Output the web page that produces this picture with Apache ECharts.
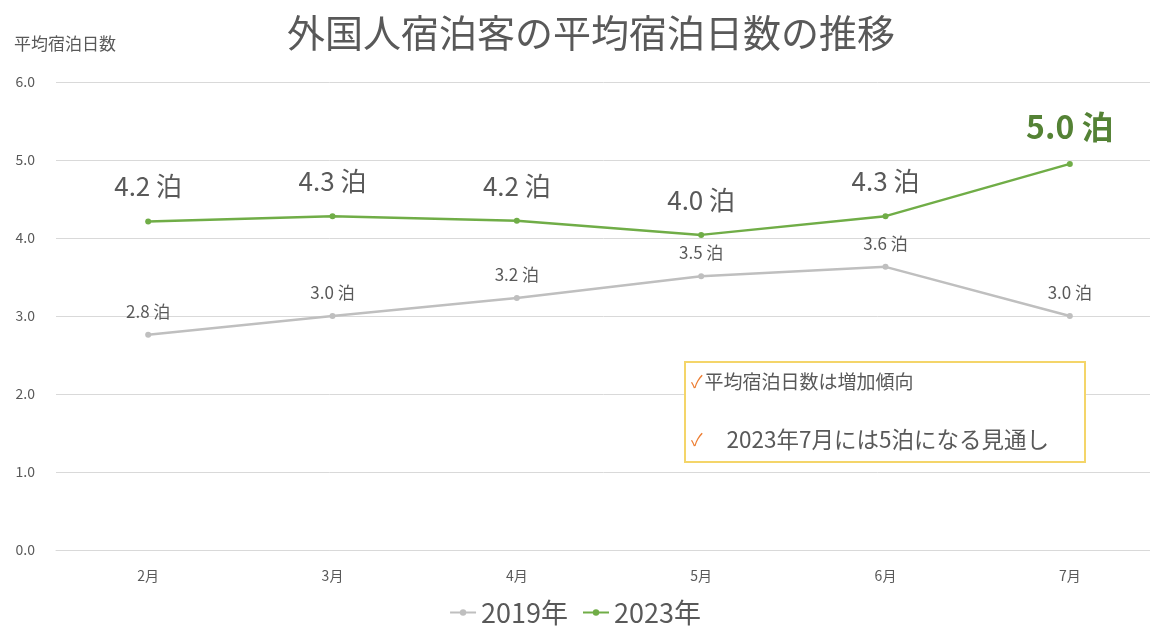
<!DOCTYPE html>
<html>
<head>
<meta charset="utf-8">
<script src="https://cdn.jsdelivr.net/npm/echarts@6/dist/echarts.min.js"></script>
<style>
  html, body { margin: 0; padding: 0; background: #fff; }
  #myChart { width: 1150px; height: 631px; }
</style>
</head>
<body>
<div id="myChart"></div>
<script>
// 月
const months = ['2月', '3月', '4月', '5月', '6月', '7月'];
// 平均宿泊日数
const data2019 = [2.76, 3.0, 3.23, 3.51, 3.63, 3.0];
const data2023 = [4.21, 4.28, 4.22, 4.04, 4.28, 4.95];
const yTicks = [0, 1, 2, 3, 4, 5, 6];

const font = '"Noto Sans CJK JP", "Noto Sans", sans-serif';
const gray = '#bfbfbf';
const green = '#70ad47';
const txt = '#595959';

let myChart = echarts.init(document.getElementById('myChart'));

// 7月だけ強調
let data23 = data2023.map((v, i) => {
  if (i === data2023.length - 1) {
    return {
      value: v,
      label: { fontSize: 32, fontWeight: 'bold', color: '#548235', distance: 18 }
    };
  }
  return v;
});

myChart.setOption({
  title: {
    text: '外国人宿泊客の平均宿泊日数の推移',
    left: 282,
    top: 9,
    textStyle: { fontFamily: font, fontSize: 38, fontWeight: 'normal', color: txt }
  },
  legend: {
    bottom: 0,
    left: 'center',
    itemWidth: 26,
    itemHeight: 8,
    itemGap: 14,
    textStyle: { fontFamily: font, fontSize: 27, color: txt },
    data: ['2019年', '2023年']
  },
  grid: { left: 56, width: 1106, top: 82, bottom: 81, outerBoundsMode: 'none' },
  xAxis: {
    type: 'category',
    data: months,
    axisLine: { lineStyle: { color: '#d9d9d9' } },
    axisTick: { show: false },
    axisLabel: { fontFamily: font, fontSize: 14, color: txt, margin: 19 }
  },
  yAxis: {
    type: 'value',
    min: yTicks[0],
    max: yTicks[yTicks.length - 1],
    interval: 1,
    axisLabel: {
      fontFamily: font, fontSize: 14, color: txt, margin: 21,
      formatter: v => v.toFixed(1)
    },
    splitLine: { lineStyle: { color: '#d9d9d9' } }
  },
  graphic: [
    {
      type: 'text', left: 14, top: 35,
      style: { text: '平均宿泊日数', font: '17px ' + font, fill: txt }
    },
    {
      type: 'rect', left: 684, top: 361,
      shape: { width: 400, height: 100 },
      style: { fill: '#fff', stroke: '#f4d569', lineWidth: 2 },
      z: 10
    },
    {
      type: 'text', left: 691, top: 372, z: 11,
      style: {
        text: '{c|✓}{t|平均宿泊日数は増加傾向}',
        rich: {
          c: { fontFamily: font, fontSize: 17, fill: '#ed7d31', padding: [0, 2, 0, 0] },
          t: { fontFamily: font, fontSize: 19, fill: txt }
        }
      }
    },
    {
      type: 'text', left: 691, top: 428, z: 11,
      style: {
        text: '{c|✓}{t|2023年7月には5泊になる見通し}',
        rich: {
          c: { fontFamily: font, fontSize: 17, fill: '#ed7d31', padding: [0, 24, 0, 0] },
          t: { fontFamily: font, fontSize: 22.5, fill: txt }
        }
      }
    }
  ],
  series: [
    {
      name: '2019年',
      type: 'line',
      data: data2019,
      symbol: 'circle',
      symbolSize: 6,
      itemStyle: { color: gray },
      lineStyle: { color: gray, width: 2.5 },
      label: {
        show: true, position: 'top', distance: 12,
        fontFamily: font, fontSize: 17, color: txt,
        formatter: p => p.value.toFixed(1) + ' 泊'
      }
    },
    {
      name: '2023年',
      type: 'line',
      data: data23,
      symbol: 'circle',
      symbolSize: 6,
      itemStyle: { color: green },
      lineStyle: { color: green, width: 2.5 },
      label: {
        show: true, position: 'top', distance: 19,
        fontFamily: font, fontSize: 26, color: txt,
        formatter: p => p.value.toFixed(1) + ' 泊'
      }
    }
  ]
});
</script>
</body>
</html>
